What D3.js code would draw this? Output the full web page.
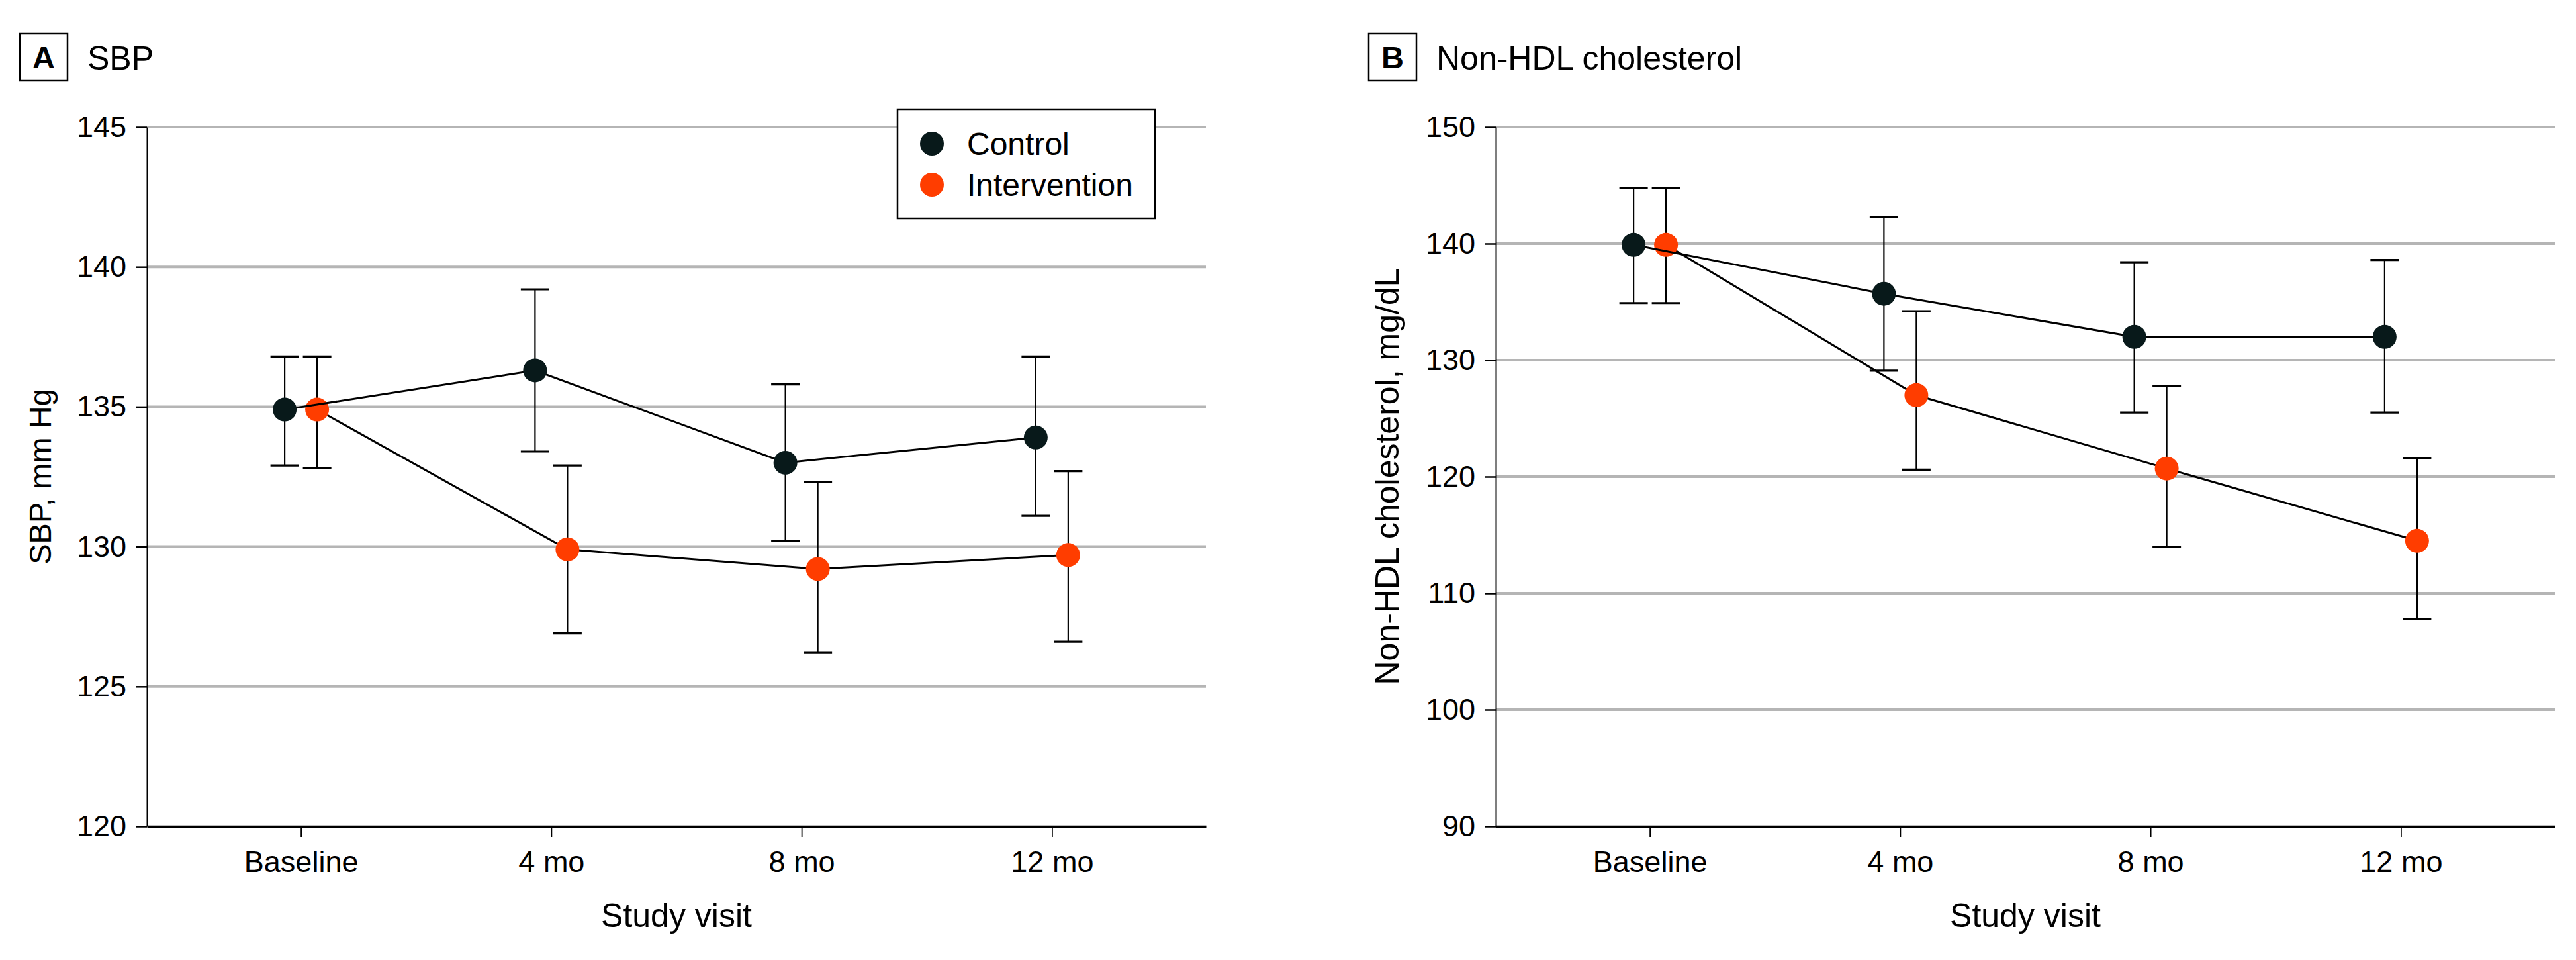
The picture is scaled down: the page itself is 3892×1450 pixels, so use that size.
<!DOCTYPE html>
<html>
<head>
<meta charset="utf-8">
<script src="https://cdn.jsdelivr.net/npm/d3@7"></script>
<style>
  html, body { margin: 0; padding: 0; background: #fff; }
  text { font-family: "Liberation Sans", Arial, sans-serif; fill: #000; }
</style>
</head>
<body>
<script>
// ---------------- data ----------------
const visits = ["Baseline", "4 mo", "8 mo", "12 mo"];
const seriesNames = ["Control", "Intervention"];
const seriesColors = ["#08191a", "#ff3d00"];

const sbpTicks = [120, 125, 130, 135, 140, 145];
const sbpControl      = [134.9, 136.3, 133.0, 133.9];
const sbpControlLow   = [132.9, 133.4, 130.2, 131.1];
const sbpControlHigh  = [136.8, 139.2, 135.8, 136.8];
const sbpInterv       = [134.9, 129.9, 129.2, 129.7];
const sbpIntervLow    = [132.8, 126.9, 126.2, 126.6];
const sbpIntervHigh   = [136.8, 132.9, 132.3, 132.7];

const nhdlTicks = [90, 100, 110, 120, 130, 140, 150];
const nhdlControl     = [139.9, 135.7, 132.0, 132.0];
const nhdlControlLow  = [134.9, 129.1, 125.5, 125.5];
const nhdlControlHigh = [144.8, 142.3, 138.4, 138.6];
const nhdlInterv      = [139.9, 127.0, 120.7, 114.5];
const nhdlIntervLow   = [134.9, 120.6, 114.0, 107.8];
const nhdlIntervHigh  = [144.8, 134.2, 127.8, 121.6];

// ---------------- layout ----------------
const W = 3892, H = 1450;
const plotW = 1600, plotTop = 192, plotBottom = 1248;
const dodge = 24.5;

const svg = d3.select("body").append("svg")
  .attr("width", W).attr("height", H)
  .style("background", "#fff");

function drawPanel(o) {
  const root = svg.append("g").attr("transform", `translate(${o.offset},0)`);

  // panel letter + title
  root.append("rect").attr("x", 30).attr("y", 51).attr("width", 72).attr("height", 71)
    .attr("fill", "#fff").attr("stroke", "#000").attr("stroke-width", 2.5);
  root.append("text").attr("x", 66).attr("y", 103).attr("text-anchor", "middle")
    .attr("font-size", 47).attr("font-weight", "bold").text(o.letter);
  root.append("text").attr("x", 132).attr("y", 105)
    .attr("font-size", 50).text(o.title);

  const g = root.append("g").attr("transform", `translate(222,0)`);
  const x = d3.scalePoint().domain(visits).range([0, plotW]).padding(0.615);
  const y = d3.scaleLinear().domain(o.domain).range([plotBottom, plotTop]);

  // grid lines
  g.append("g").selectAll("line")
    .data(o.ticks.filter(t => t !== o.domain[0]))
    .join("line")
    .attr("x1", 0).attr("x2", plotW)
    .attr("y1", d => y(d)).attr("y2", d => y(d))
    .attr("stroke", "#b5b5b5").attr("stroke-width", 4);

  // y axis
  const ya = g.append("g").call(
    d3.axisLeft(y).tickValues(o.ticks).tickSize(16).tickSizeOuter(0).tickPadding(15));
  ya.attr("font-family", null).attr("font-size", null);
  ya.select(".domain").attr("stroke", "#000").attr("stroke-width", 2);
  ya.selectAll(".tick line").attr("stroke", "#000").attr("stroke-width", 2.5);
  ya.selectAll(".tick text").attr("font-size", 45).attr("fill", "#000");

  // x axis
  const xa = g.append("g").attr("transform", `translate(0,${plotBottom})`).call(
    d3.axisBottom(x).tickSize(16).tickSizeOuter(0).tickPadding(21));
  xa.attr("font-family", null).attr("font-size", null);
  xa.select(".domain").attr("stroke", "#000").attr("stroke-width", 3.5);
  xa.selectAll(".tick line").attr("stroke", "#000").attr("stroke-width", 1.8);
  xa.selectAll(".tick text").attr("font-size", 45).attr("fill", "#000");

  // axis titles
  g.append("text").attr("x", plotW / 2).attr("y", 1400).attr("text-anchor", "middle")
    .attr("font-size", 50).text("Study visit");
  g.append("text")
    .attr("transform", `translate(${o.ylabelX},${(plotTop + plotBottom) / 2}) rotate(-90)`)
    .attr("text-anchor", "middle").attr("font-size", o.ylabelSize).text(o.ylabel);

  // series: draw intervention first, control on top
  const order = [1, 0];
  order.forEach(si => {
    const s = o.series[si];
    const off = si === 0 ? -dodge : dodge;
    const cx = i => x(visits[i]) + off;
    const sg = g.append("g");
    const line = d3.line().x((d, i) => cx(i)).y(d => y(d));
    sg.append("path").datum(s.mean).attr("d", line)
      .attr("fill", "none").attr("stroke", "#000").attr("stroke-width", 3);
    const idx = d3.range(visits.length);
    sg.selectAll("line.eb").data(idx).join("line").attr("class", "eb")
      .attr("x1", cx).attr("x2", cx)
      .attr("y1", i => y(s.low[i])).attr("y2", i => y(s.high[i]))
      .attr("stroke", "#000").attr("stroke-width", 2.2);
    sg.selectAll("line.capH").data(idx).join("line").attr("class", "capH")
      .attr("x1", i => cx(i) - 21.5).attr("x2", i => cx(i) + 21.5)
      .attr("y1", i => y(s.high[i])).attr("y2", i => y(s.high[i]))
      .attr("stroke", "#000").attr("stroke-width", 3.2);
    sg.selectAll("line.capL").data(idx).join("line").attr("class", "capL")
      .attr("x1", i => cx(i) - 21.5).attr("x2", i => cx(i) + 21.5)
      .attr("y1", i => y(s.low[i])).attr("y2", i => y(s.low[i]))
      .attr("stroke", "#000").attr("stroke-width", 3.2);
    sg.selectAll("circle").data(idx).join("circle")
      .attr("cx", cx).attr("cy", i => y(s.mean[i])).attr("r", 18)
      .attr("fill", seriesColors[si]);
  });

  // legend
  if (o.legend) {
    const lg = g.append("g").attr("transform", "translate(1134,165)");
    lg.append("rect").attr("width", 389).attr("height", 165)
      .attr("fill", "#fff").attr("stroke", "#000").attr("stroke-width", 2.5);
    const items = lg.selectAll("g.item").data(seriesNames).join("g").attr("class", "item")
      .attr("transform", (d, i) => `translate(0,${52 + i * 62})`);
    items.append("circle").attr("cx", 52).attr("cy", 0).attr("r", 18)
      .attr("fill", (d, i) => seriesColors[i]);
    items.append("text").attr("x", 105).attr("y", 17).attr("font-size", 48).text(d => d);
  }
}

drawPanel({
  offset: 0, letter: "A", title: "SBP",
  domain: [120, 145], ticks: sbpTicks,
  ylabel: "SBP, mm Hg", ylabelX: -145, ylabelSize: 47,
  legend: true,
  series: [
    { mean: sbpControl, low: sbpControlLow, high: sbpControlHigh },
    { mean: sbpInterv, low: sbpIntervLow, high: sbpIntervHigh }
  ]
});

drawPanel({
  offset: 2038, letter: "B", title: "Non-HDL cholesterol",
  domain: [90, 150], ticks: nhdlTicks,
  ylabel: "Non-HDL cholesterol, mg/dL", ylabelX: -147, ylabelSize: 50,
  legend: false,
  series: [
    { mean: nhdlControl, low: nhdlControlLow, high: nhdlControlHigh },
    { mean: nhdlInterv, low: nhdlIntervLow, high: nhdlIntervHigh }
  ]
});
</script>
</body>
</html>
